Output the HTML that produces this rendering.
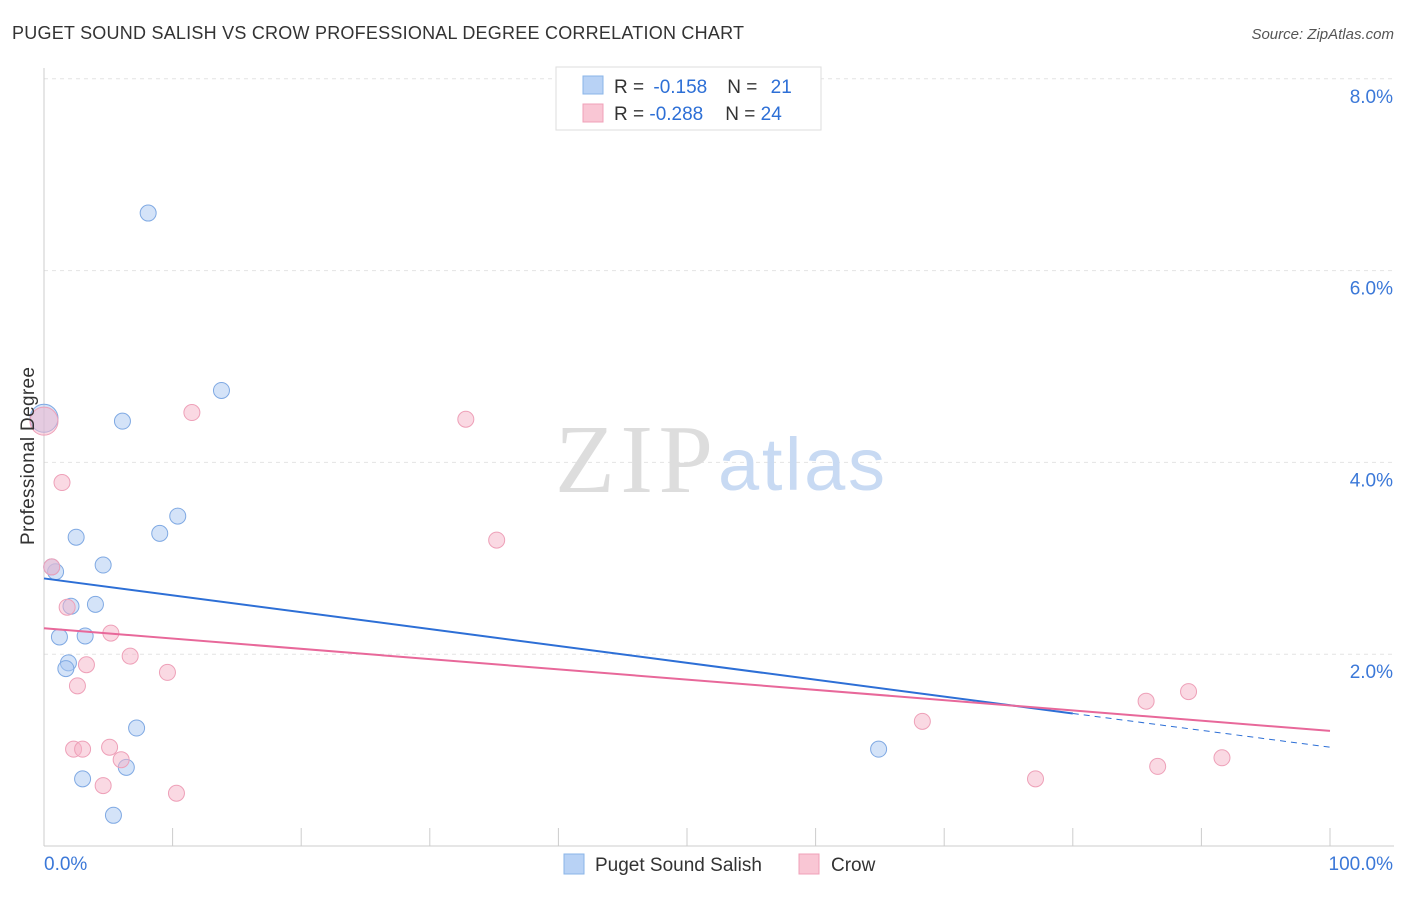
<!DOCTYPE html>
<html><head><meta charset="utf-8"><style>
body{margin:0;background:#fff;font-family:"Liberation Sans",sans-serif;}
</style></head><body>
<svg width="1406" height="892" xmlns="http://www.w3.org/2000/svg" style="font-family:'Liberation Sans',sans-serif">
<text x="12" y="39" font-size="18" fill="#333" textLength="732">PUGET SOUND SALISH VS CROW PROFESSIONAL DEGREE CORRELATION CHART</text>
<text x="1394" y="39" font-size="15" fill="#555" font-style="italic" text-anchor="end">Source: ZipAtlas.com</text>
<g id="grid"></g>
<g id="axes"></g>
<text x="555" y="492" font-size="98" fill="#ddd" font-family="Liberation Serif" textLength="158">ZIP</text>
<text x="718" y="490" font-size="74" fill="#c8daf3" textLength="167">atlas</text>
<g id="marks"></g>
<text transform="translate(34,456) rotate(-90)" font-size="19" fill="#333" text-anchor="middle" textLength="178">Professional Degree</text>
<g>
<rect x="556" y="67" width="265" height="63" fill="#fff" stroke="#ddd"/>
<rect x="583" y="76" width="20" height="18" fill="#b8d2f5" stroke="#8ab4e8"/>
<rect x="583" y="104" width="20" height="18" fill="#f9c6d4" stroke="#f0a0b8"/>
<text x="614" y="93" font-size="19" fill="#333">R = <tspan fill="#2d6fd6" dx="4">-0.158</tspan><tspan dx="20">N = </tspan><tspan fill="#2d6fd6" dx="8">21</tspan></text>
<text x="614" y="120" font-size="19" fill="#333">R = <tspan fill="#2d6fd6">-0.288</tspan><tspan dx="22">N = </tspan><tspan fill="#2d6fd6">24</tspan></text>
</g>
<g>
<rect x="564" y="854" width="20" height="20" fill="#b8d2f5" stroke="#8ab4e8"/>
<text x="595" y="871" font-size="19" fill="#333">Puget Sound Salish</text>
<rect x="799" y="854" width="20" height="20" fill="#f9c6d4" stroke="#f0a0b8"/>
<text x="831" y="871" font-size="19" fill="#333">Crow</text>
</g>
</svg>
<script>
const yTicks=[2,4,6,8];
const yTickLabels=["2.0%","4.0%","6.0%","8.0%"];
const xTickLabels=["0.0%","100.0%"];
const blueX=[8.1,13.8,6.1,10.4,9.0,2.5,4.6,0.9,0.6,4.0,2.1,1.2,3.2,1.9,1.7,7.2,6.4,3.0,5.4,64.9,0];
const blueY=[6.60,4.75,4.43,3.44,3.26,3.22,2.93,2.86,2.91,2.52,2.50,2.18,2.19,1.91,1.85,1.23,0.82,0.70,0.32,1.01,4.46];
const pinkX=[0,11.5,32.8,1.4,35.2,0.6,1.8,5.2,6.7,3.3,9.6,2.6,2.3,3.0,5.1,6.0,4.6,10.3,68.3,85.7,89.0,77.1,86.6,91.6];
const pinkY=[4.43,4.52,4.45,3.79,3.19,2.91,2.49,2.22,1.98,1.89,1.81,1.67,1.01,1.01,1.03,0.90,0.63,0.55,1.30,1.51,1.61,0.70,0.83,0.92];
const blueTrend=[2.79,1.03];
const pinkTrend=[2.27,1.20];
const blueSolidEnd=80;
const NS="http://www.w3.org/2000/svg";
const X=v=>44+v*12.86, Y=v=>846-v*95.9;
function mk(tag,attrs,parent){const e=document.createElementNS(NS,tag);for(const k in attrs)e.setAttribute(k,attrs[k]);parent.appendChild(e);return e;}
const grid=document.getElementById('grid'),axes=document.getElementById('axes'),marks=document.getElementById('marks');
yTicks.forEach((t,i)=>{
 const l=mk('line',{x1:44,x2:1394,y1:Y(t),y2:Y(t),stroke:'#e4e4e4','stroke-dasharray':'4,4'},grid);
 
 
 const tx=mk('text',{x:1393,y:Y(t)+24,'font-size':19,fill:'#3b78d8','text-anchor':'end'},axes);
 tx.textContent=yTickLabels[i];
 
 
});
mk('line',{x1:44,x2:44,y1:68,y2:846,stroke:'#ccc'},axes);
mk('line',{x1:44,x2:1394,y1:846,y2:846,stroke:'#ccc'},axes);
for(let i=0;i<=10;i++){const t=mk('line',{x1:X(i*10),x2:X(i*10),y1:828,y2:846,stroke:'#ccc'},axes);
 
 }
[[44,'start'],[1393,'end']].forEach((p,i)=>{const t=mk('text',{x:p[0],y:870,'font-size':19,fill:'#3b78d8','text-anchor':p[1]},axes);t.textContent=xTickLabels[i];
 
 });
function pts(xs,ys,fill,stroke,name){xs.forEach((x,i)=>{const big=(x===0);const c=mk('circle',{cx:X(x),cy:Y(ys[i]),r:big?14:8,fill:fill,stroke:stroke,'stroke-width':1},marks);
 
 });}
pts(blueX,blueY,'rgba(170,200,242,0.5)','#7fa9e3','point-puget-sound-salish');
pts(pinkX,pinkY,'rgba(246,180,200,0.5)','#eea0b8','point-crow');
const lerp=(a,b,t)=>a+(b-a)*t/100;
let l1=mk('line',{x1:X(0),y1:Y(blueTrend[0]),x2:X(blueSolidEnd),y2:Y(lerp(blueTrend[0],blueTrend[1],blueSolidEnd)),stroke:'#2d6fd6','stroke-width':2},marks);


let l2=mk('line',{x1:X(blueSolidEnd),y1:Y(lerp(blueTrend[0],blueTrend[1],blueSolidEnd)),x2:X(100),y2:Y(blueTrend[1]),stroke:'#2d6fd6','stroke-width':1,'stroke-dasharray':'6,5'},marks);


let l3=mk('line',{x1:X(0),y1:Y(pinkTrend[0]),x2:X(100),y2:Y(pinkTrend[1]),stroke:'#e8689a','stroke-width':2},marks);


</script>
</body></html>
